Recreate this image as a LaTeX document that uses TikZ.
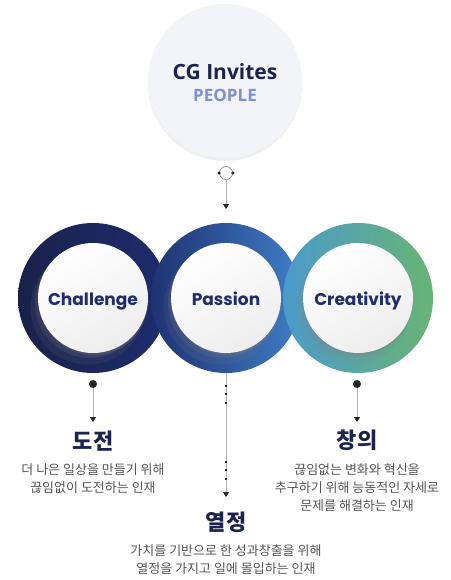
\documentclass[tikz,border=0pt]{standalone}
\usepackage{fontspec}
\setmainfont{Noto Sans CJK KR}
\newfontfamily\cglatin{Poppins}
\newfontfamily\cghead{Open Sans}
\usetikzlibrary{calc,positioning,shadows,arrows.meta}
\definecolor{cgnavy}{HTML}{1B2450}
\definecolor{cgpeople}{HTML}{7D8FD9}
\definecolor{cglabel}{HTML}{1F2C6E}
\definecolor{cgtext}{HTML}{555555}
\definecolor{cgline}{HTML}{B4B4B4}
\definecolor{cgtop}{HTML}{F3F4F7}
\definecolor{chalL}{HTML}{18224A}
\definecolor{chalR}{HTML}{1E2C6E}
\definecolor{passL}{HTML}{1E3272}
\definecolor{passR}{HTML}{3F7EC6}
\definecolor{creaL}{HTML}{4A9BCC}
\definecolor{creaR}{HTML}{68B474}
\tikzset{
 cg top/.style={circle,fill=cgtop,minimum size=154pt,inner sep=0pt,
                drop shadow={opacity=.12,shadow xshift=0pt,shadow yshift=-3pt}},
 cg ring/.style={circle,minimum size=150pt,inner sep=0pt},
 cg inner/.style={circle,minimum size=110pt,inner sep=0pt,
                  left color=white,right color=black!7,shading angle=30,
                  drop shadow={opacity=.12,shadow xshift=-5pt,shadow yshift=-9pt,shadow scale=1.04},
                  drop shadow={opacity=.18,shadow xshift=-3pt,shadow yshift=-5pt},
                  drop shadow={opacity=.25,shadow xshift=.5pt,shadow yshift=-2pt},
                  font=\cglatin\fontsize{17}{19}\selectfont\bfseries,text=cglabel},
 cg hub/.style={circle,draw=black!45,line width=.7pt,fill=white,minimum size=13pt,inner sep=0pt},
 cg dot/.style={circle,fill=black!85,minimum size=8pt,inner sep=0pt},
 cg pin/.style={circle,fill=black!85,minimum size=3.5pt,inner sep=0pt},
 cg tick/.style={rectangle,fill=black!85,minimum size=2.4pt,inner sep=0pt},
 cg arrow/.style={draw=cgline,line width=.9pt,
                  -{Triangle[width=6pt,length=5pt,color=black!85]}},
 cg title/.style={font=\fontsize{22}{24}\selectfont\bfseries,text=cgnavy},
 cg body/.style={font=\fontsize{13}{18}\selectfont,text=cgtext,align=center}
}
\begin{document}
\begin{tikzpicture}[x=1pt,y=-1pt]
 \useasboundingbox (0,0) rectangle (450,580);
 % head circle
 \node[cg top] (top) at (225,81) {};
 \node[font=\cghead\fontsize{21}{24}\selectfont\bfseries,text=cgnavy]
   (topA) at (225,72) {CG Invites};
 \node[font=\cghead\fontsize{17}{20}\selectfont\bfseries,text=cgpeople]
   (topB) at (225,95) {PEOPLE};
 \node[cg hub] (hub) at (226,173) {};
 \node[cg pin] (hubW) at (hub.west) {};
 \node[cg pin] (hubE) at (hub.east) {};
 \coordinate (hubEnd) at (226,209);
 \draw[cg arrow] (hub) -- (hubEnd);
 % rings
 \foreach \n/\x in {chal/93,pass/226,crea/358}{
   \node[cg ring,left color=\n L,right color=\n R] (\n) at (\x,298) {};
 }
 \foreach \n/\x/\t in {chal/93/Challenge,pass/226/Passion,crea/358/Creativity}{
   \node[cg inner,text depth=1pt] (\n In) at (\x,298) {\raisebox{-3pt}{\t}};
 }
 % Challenge
 \node[cg dot] (chalDot) at (93,384) {};
 \coordinate (chalEnd) at (93,422);
 \draw[cg arrow] (chalDot) -- (chalEnd);
 \node[cg title] (chalTitle) at (93,441) {도전};
 \node[cg body] (chalText) at (93,479)
   {더 나은 일상을 만들기 위해\\끊임없이 도전하는 인재};
 % Creativity
 \node[cg dot] (creaDot) at (357,384) {};
 \coordinate (creaEnd) at (357,422);
 \draw[cg arrow] (creaDot) -- (creaEnd);
 \node[cg title] (creaTitle) at (357,440) {창의};
 \node[cg body] (creaText) at (357,488)
   {끊임없는 변화와 혁신을\\추구하기 위해 능동적인 자세로\\문제를 해결하는 인재};
 % Passion
 \coordinate (passEnd) at (226,497);
 \draw[cg arrow] (pass.south) -- (passEnd);
 \foreach \y in {386,394,403,462,470,479}{
   \node[cg tick] (passTick\y) at (226,\y) {};
 }
 \node[cg title] (passTitle) at (226,522) {열정};
 \node[cg body] (passText) at (226,560)
   {가치를 기반으로 한 성과창출을 위해\\열정을 가지고 일에 몰입하는 인재};
\end{tikzpicture}
\end{document}
